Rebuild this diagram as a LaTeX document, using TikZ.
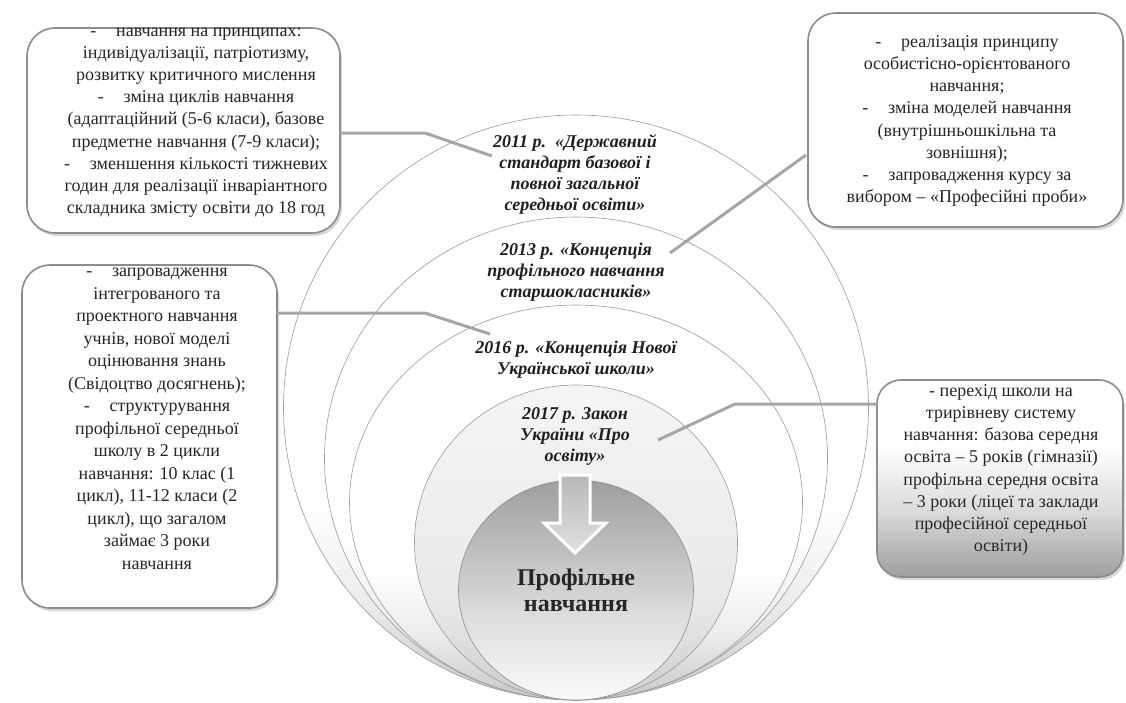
\documentclass[tikz,border=0pt]{standalone}
\usepackage{fontspec}
\setmainfont{Liberation Serif}
\usetikzlibrary{shadows}
\definecolor{linegray}{HTML}{A6A6A6}
\definecolor{boxline}{HTML}{8C8C8C}
\definecolor{txt}{HTML}{262626}
\definecolor{ringline}{HTML}{9A9A9A}
\pgfdeclareverticalshading{ringshade}{100bp}{color(0bp)=(black!22); color(25bp)=(black!22); color(33bp)=(black!8); color(42bp)=(white); color(100bp)=(white)}
\pgfdeclareverticalshading{ringfour}{100bp}{color(0bp)=(black!20); color(25bp)=(black!20); color(40bp)=(black!9); color(75bp)=(black!4); color(100bp)=(black!4)}
\pgfdeclareverticalshading{coreshade}{100bp}{color(0bp)=(black!2); color(25bp)=(black!2); color(45bp)=(black!14); color(75bp)=(black!38); color(100bp)=(black!38)}
\pgfdeclareverticalshading{boxshade}{100bp}{color(0bp)=(black!38); color(25bp)=(black!38); color(42bp)=(black!14); color(58bp)=(white); color(100bp)=(white)}
\begin{document}
\begin{tikzpicture}[x=1pt,y=-1pt,
  ring/.style={draw=ringline, line width=0.6pt},
  box/.style={draw=boxline, line width=1.6pt, rounded corners=28pt, fill=white, drop shadow={shadow xshift=2pt, shadow yshift=-3pt, opacity=0.3}},
  boxtext/.style={text=txt, align=center, font=\fontsize{18}{22.2}\selectfont, inner sep=0pt},
  ringlabel/.style={text=black!88, align=center, font=\fontsize{18}{21}\selectfont\bfseries\itshape, inner sep=0pt},
  conn/.style={draw=linegray, line width=3pt, line join=round}
]
\useasboundingbox (0,0) rectangle (1126,702);
\fill[white] (0,0) rectangle (1126,702);
% circles
\shadedraw[ring, shading=ringshade] (576,407.5) ellipse [x radius=292.5pt, y radius=292.5pt];
\shadedraw[ring, shading=ringshade] (576,458.5) ellipse [x radius=251.5pt, y radius=241.5pt];
\shadedraw[ring, shading=ringshade] (576,502.5) ellipse [x radius=226.5pt, y radius=197.5pt];
\shadedraw[ring, shading=ringfour] (576,542.5) ellipse [x radius=161.5pt, y radius=157.5pt];
\shadedraw[ring, draw=black!45, shading=coreshade] (576,590) ellipse [x radius=117.5pt, y radius=110pt];
% arrow
\shadedraw[draw=white, line width=3pt, line join=miter, top color=black!28, bottom color=black!12]
  (560,475) -- (590,475) -- (590,523) -- (606,523) -- (575,553) -- (544,523) -- (560,523) -- cycle;
% ring labels
\node[ringlabel] (t2011) at (575,174.5) {2011 р.\ \ «Державний\\стандарт базової і\\повної загальної\\середньої освіти»};
\node[ringlabel] (t2013) at (576,272) {2013 р. «Концепція\\профільного навчання\\старшокласників»};
\node[ringlabel] (t2016) at (576,360) {2016 р. «Концепція Нової\\Української школи»};
\node[ringlabel] (t2017) at (575,436) {2017 р. Закон\\України «Про\\освіту»};
\node[font=\fontsize{24}{26}\selectfont\bfseries, text=black!85, align=center, inner sep=0pt] (core) at (576,590) {Профільне\\навчання};
% boxes
\node[box, minimum width=313pt, minimum height=205pt] (boxA) at (183.5,130.5) {};
\node[box, minimum width=315pt, minimum height=214pt] (boxB) at (965.5,120) {};
\node[box, minimum width=255pt, minimum height=343pt] (boxC) at (149.5,436.5) {};
\node[box, rounded corners=24pt, minimum width=246pt, minimum height=197pt, shading=boxshade] (boxD) at (1000,478.5) {};
\node[boxtext] (tA) at (196,122.5) {-\hspace{1.1em}навчання на принципах:\\
індивідуалізації, патріотизму,\\
розвитку критичного мислення\\
-\hspace{1.1em}зміна циклів навчання\\
(адаптаційний (5-6 класи), базове\\
предметне навчання (7-9 класи);\\
-\hspace{1.1em}зменшення кількості тижневих\\
годин для реалізації інваріантного\\
складника змісту освіти до 18 год};
\node[boxtext] (tB) at (967,121) {-\hspace{1.1em}реалізація принципу\\
особистісно-орієнтованого\\
навчання;\\
-\hspace{1.1em}зміна моделей навчання\\
(внутрішньошкільна та\\
зовнішня);\\
-\hspace{1.1em}запровадження курсу за\\
вибором – «Професійні проби»};
\node[boxtext, font=\fontsize{18}{22.5}\selectfont] (tC) at (157,419) {-\hspace{1.1em}запровадження\\
інтегрованого та\\
проектного навчання\\
учнів, нової моделі\\
оцінювання знань\\
(Свідоцтво досягнень);\\
-\hspace{1.1em}структурування\\
профільної середньої\\
школу в 2 цикли\\
навчання: 10 клас (1\\
цикл), 11-12 класи (2\\
цикл), що загалом\\
займає 3 роки\\
навчання};
\node[boxtext] (tD) at (1001,470) {- перехід школи на\\
трирівневу систему\\
навчання: базова середня\\
освіта – 5 років (гімназії)\\
профільна середня освіта\\
– 3 роки (ліцеї та заклади\\
професійної середньої\\
освіти)};
% connectors
\coordinate (sA) at (340,133);
\coordinate (eA) at (492,156);
\coordinate (sB) at (806,155);
\coordinate (eB) at (670,253);
\coordinate (sC) at (277,313);
\coordinate (eC) at (490,334);
\coordinate (sD) at (877,404);
\coordinate (eD) at (658,440);
\draw[conn] (sA) -- ++(85,0) -- (eA);
\draw[conn] (sB) -- (eB);
\draw[conn] (sC) -- ++(148,0) -- (eC);
\draw[conn] (sD) -- ++(-142,0) -- (eD);
\end{tikzpicture}
\end{document}
